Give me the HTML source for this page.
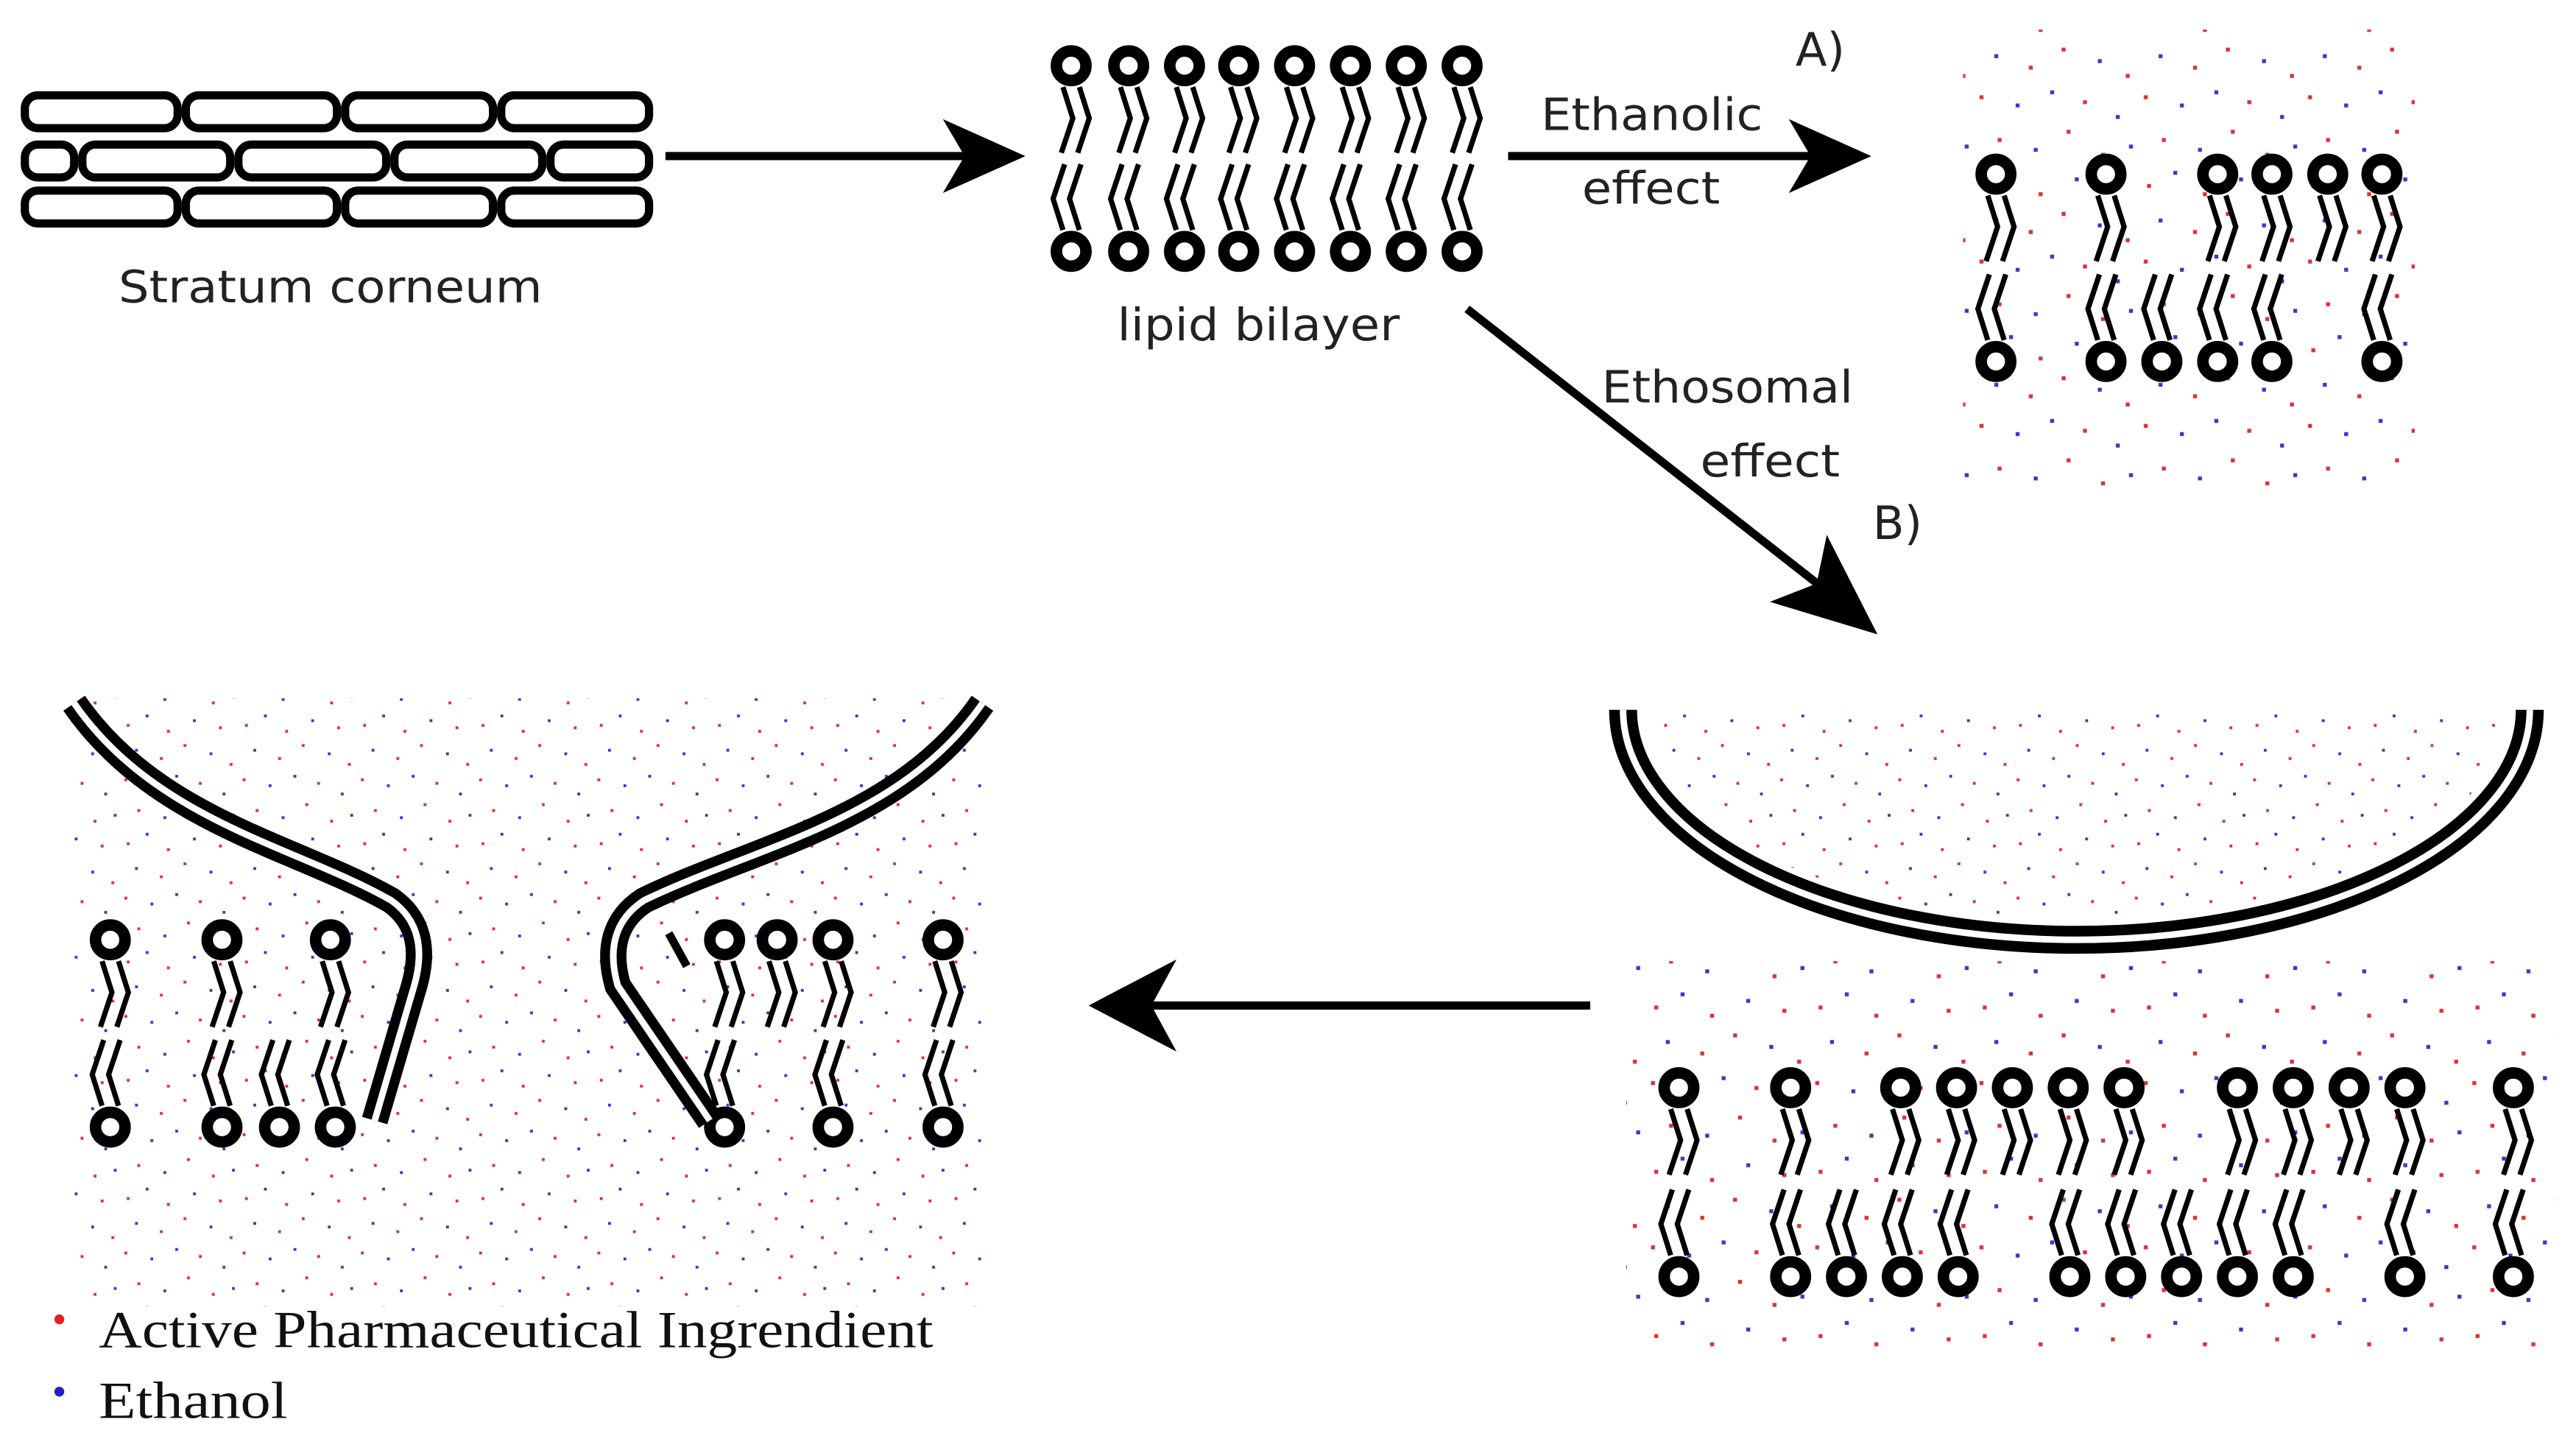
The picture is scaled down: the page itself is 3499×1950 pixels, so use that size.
<!DOCTYPE html>
<html><head><meta charset="utf-8"><style>
html,body{margin:0;padding:0;background:#fff;}
svg{display:block;}
text{font-family:"DejaVu Sans","Liberation Sans",sans-serif;fill:#222;}
.serif{font-family:"Liberation Serif",serif;fill:#111;}
</style></head><body>
<svg width="3499" height="1950" viewBox="0 0 1568 874" xmlns="http://www.w3.org/2000/svg" xmlns:xlink="http://www.w3.org/1999/xlink">
<defs>
<g id="dd">
<rect x="7" y="12" width="2.4" height="2.4" fill="#e03030"/><rect x="23" y="4" width="2.4" height="2.4" fill="#3838c8"/>
<rect x="41" y="17" width="2.4" height="2.4" fill="#e03030"/><rect x="63" y="8" width="2.4" height="2.4" fill="#3838c8"/>
<rect x="85" y="14" width="2.4" height="2.4" fill="#e03030"/><rect x="14" y="33" width="2.4" height="2.4" fill="#3838c8"/>
<rect x="35" y="40" width="2.4" height="2.4" fill="#e03030"/><rect x="55" y="29" width="2.4" height="2.4" fill="#e03030"/>
<rect x="77" y="36" width="2.4" height="2.4" fill="#3838c8"/><rect x="94" y="45" width="2.4" height="2.4" fill="#e03030"/>
<rect x="5" y="58" width="2.4" height="2.4" fill="#e03030"/><rect x="27" y="63" width="2.4" height="2.4" fill="#3838c8"/>
<rect x="48" y="55" width="2.4" height="2.4" fill="#3838c8"/><rect x="68" y="61" width="2.4" height="2.4" fill="#e03030"/>
<rect x="88" y="70" width="2.4" height="2.4" fill="#3838c8"/><rect x="16" y="84" width="2.4" height="2.4" fill="#e03030"/>
<rect x="38" y="90" width="2.4" height="2.4" fill="#3838c8"/><rect x="58" y="79" width="2.4" height="2.4" fill="#e03030"/>
<rect x="79" y="93" width="2.4" height="2.4" fill="#e03030"/><rect x="96" y="88" width="2.4" height="2.4" fill="#3838c8"/>
</g>
<pattern id="pd" x="0" y="0" width="100" height="100" patternUnits="userSpaceOnUse"><use xlink:href="#dd" href="#dd"/></pattern>
<pattern id="pd2" x="0" y="0" width="100" height="100" patternUnits="userSpaceOnUse" patternTransform="scale(0.72)"><use xlink:href="#dd" href="#dd"/></pattern>
<g id="L">
<path d="M-5,13 L1,32 L-6,53 M5,13 L11,32 L4,53" fill="none" stroke="#000" stroke-width="3.2"/>
<circle cx="0" cy="0" r="9" fill="#fff" stroke="#000" stroke-width="7"/>
</g>
</defs>
<rect width="1568" height="874" fill="#fff"/>
<!-- dots -->
<rect x="1195" y="18" width="275" height="285" fill="url(#pd)"/>
<path d="M1002,432 A262,128 0 0 0 1526,432 Z" fill="url(#pd2)"/>
<rect x="990" y="585" width="565" height="235" fill="url(#pd)"/>
<rect x="45" y="425" width="555" height="370" fill="url(#pd2)"/>
<!-- lipids -->
<g>
<use xlink:href="#L" href="#L" transform="translate(652,40)"/><use xlink:href="#L" href="#L" transform="translate(687,40)"/><use xlink:href="#L" href="#L" transform="translate(721,40)"/><use xlink:href="#L" href="#L" transform="translate(754,40)"/><use xlink:href="#L" href="#L" transform="translate(788,40)"/><use xlink:href="#L" href="#L" transform="translate(822,40)"/><use xlink:href="#L" href="#L" transform="translate(856,40)"/><use xlink:href="#L" href="#L" transform="translate(890,40)"/>
<use xlink:href="#L" href="#L" transform="translate(652,153) scale(-1,-1)"/><use xlink:href="#L" href="#L" transform="translate(687,153) scale(-1,-1)"/><use xlink:href="#L" href="#L" transform="translate(721,153) scale(-1,-1)"/><use xlink:href="#L" href="#L" transform="translate(754,153) scale(-1,-1)"/><use xlink:href="#L" href="#L" transform="translate(788,153) scale(-1,-1)"/><use xlink:href="#L" href="#L" transform="translate(822,153) scale(-1,-1)"/><use xlink:href="#L" href="#L" transform="translate(856,153) scale(-1,-1)"/><use xlink:href="#L" href="#L" transform="translate(890,153) scale(-1,-1)"/>
<use xlink:href="#L" href="#L" transform="translate(1215,106)"/><use xlink:href="#L" href="#L" transform="translate(1282,106)"/><use xlink:href="#L" href="#L" transform="translate(1350,106)"/><use xlink:href="#L" href="#L" transform="translate(1383,106)"/><use xlink:href="#L" href="#L" transform="translate(1417,106)"/><use xlink:href="#L" href="#L" transform="translate(1450,106)"/>
<use xlink:href="#L" href="#L" transform="translate(1215,220) scale(-1,-1)"/><use xlink:href="#L" href="#L" transform="translate(1282,220) scale(-1,-1)"/><use xlink:href="#L" href="#L" transform="translate(1316,220) scale(-1,-1)"/><use xlink:href="#L" href="#L" transform="translate(1350,220) scale(-1,-1)"/><use xlink:href="#L" href="#L" transform="translate(1383,220) scale(-1,-1)"/><use xlink:href="#L" href="#L" transform="translate(1450,220) scale(-1,-1)"/>
<use xlink:href="#L" href="#L" transform="translate(1022,662)"/><use xlink:href="#L" href="#L" transform="translate(1090,662)"/><use xlink:href="#L" href="#L" transform="translate(1157,662)"/><use xlink:href="#L" href="#L" transform="translate(1191,662)"/><use xlink:href="#L" href="#L" transform="translate(1225,662)"/><use xlink:href="#L" href="#L" transform="translate(1259,662)"/><use xlink:href="#L" href="#L" transform="translate(1293,662)"/><use xlink:href="#L" href="#L" transform="translate(1362,662)"/><use xlink:href="#L" href="#L" transform="translate(1396,662)"/><use xlink:href="#L" href="#L" transform="translate(1430,662)"/><use xlink:href="#L" href="#L" transform="translate(1464,662)"/><use xlink:href="#L" href="#L" transform="translate(1530,662)"/>
<use xlink:href="#L" href="#L" transform="translate(1022,777) scale(-1,-1)"/><use xlink:href="#L" href="#L" transform="translate(1090,777) scale(-1,-1)"/><use xlink:href="#L" href="#L" transform="translate(1124,777) scale(-1,-1)"/><use xlink:href="#L" href="#L" transform="translate(1158,777) scale(-1,-1)"/><use xlink:href="#L" href="#L" transform="translate(1192,777) scale(-1,-1)"/><use xlink:href="#L" href="#L" transform="translate(1260,777) scale(-1,-1)"/><use xlink:href="#L" href="#L" transform="translate(1294,777) scale(-1,-1)"/><use xlink:href="#L" href="#L" transform="translate(1328,777) scale(-1,-1)"/><use xlink:href="#L" href="#L" transform="translate(1362,777) scale(-1,-1)"/><use xlink:href="#L" href="#L" transform="translate(1396,777) scale(-1,-1)"/><use xlink:href="#L" href="#L" transform="translate(1464,777) scale(-1,-1)"/><use xlink:href="#L" href="#L" transform="translate(1530,777) scale(-1,-1)"/>
<use xlink:href="#L" href="#L" transform="translate(67,572)"/><use xlink:href="#L" href="#L" transform="translate(135,572)"/><use xlink:href="#L" href="#L" transform="translate(201,572)"/><use xlink:href="#L" href="#L" transform="translate(441,572)"/><use xlink:href="#L" href="#L" transform="translate(473,572)"/><use xlink:href="#L" href="#L" transform="translate(507,572)"/><use xlink:href="#L" href="#L" transform="translate(574,572)"/>
<use xlink:href="#L" href="#L" transform="translate(67,686) scale(-1,-1)"/><use xlink:href="#L" href="#L" transform="translate(135,686) scale(-1,-1)"/><use xlink:href="#L" href="#L" transform="translate(170,686) scale(-1,-1)"/><use xlink:href="#L" href="#L" transform="translate(204,686) scale(-1,-1)"/><use xlink:href="#L" href="#L" transform="translate(441,686) scale(-1,-1)"/><use xlink:href="#L" href="#L" transform="translate(507,686) scale(-1,-1)"/><use xlink:href="#L" href="#L" transform="translate(574,686) scale(-1,-1)"/>
</g>
<!-- stratum corneum -->
<g fill="none" stroke="#000" stroke-width="5">
<rect x="15" y="58" width="93" height="20" rx="8"/><rect x="113" y="58" width="92" height="20" rx="8"/><rect x="210" y="58" width="90" height="20" rx="8"/><rect x="305" y="58" width="90" height="20" rx="8"/>
<rect x="15" y="88" width="30" height="20" rx="8"/><rect x="50" y="88" width="90" height="20" rx="8"/><rect x="145" y="88" width="90" height="20" rx="8"/><rect x="240" y="88" width="90" height="20" rx="8"/><rect x="335" y="88" width="60" height="20" rx="8"/>
<rect x="15" y="116" width="93" height="20" rx="8"/><rect x="113" y="116" width="92" height="20" rx="8"/><rect x="210" y="116" width="90" height="20" rx="8"/><rect x="305" y="116" width="90" height="20" rx="8"/>
</g>
<text x="72" y="184" font-size="27" textLength="258" lengthAdjust="spacingAndGlyphs">Stratum corneum</text>
<text x="680" y="207" font-size="27" textLength="172" lengthAdjust="spacingAndGlyphs">lipid bilayer</text>
<text x="938" y="79" font-size="27" textLength="135" lengthAdjust="spacingAndGlyphs">Ethanolic</text>
<text x="963" y="124" font-size="27" textLength="84" lengthAdjust="spacingAndGlyphs">effect</text>
<text x="1093" y="40" font-size="28">A)</text>
<text x="975" y="245" font-size="27" textLength="153" lengthAdjust="spacingAndGlyphs">Ethosomal</text>
<text x="1035" y="290" font-size="27" textLength="85" lengthAdjust="spacingAndGlyphs">effect</text>
<text x="1140" y="328" font-size="28">B)</text>
<!-- arrows -->
<g stroke="#000" stroke-width="5" fill="#000">
<line x1="405" y1="95" x2="600" y2="95"/>
<path d="M618,95 L580,78 L590,95 L580,112 Z"/>
<line x1="918" y1="95" x2="1115" y2="95"/>
<path d="M1133,95 L1095,78 L1105,95 L1095,112 Z"/>
<line x1="893" y1="188" x2="1120" y2="366"/>
<path d="M1138,382 L1085,366 L1108,357 L1113,333 Z"/>
<line x1="968" y1="612" x2="690" y2="612"/>
<path d="M668,612 L710,590 L698,612 L710,634 Z"/>
</g>
<!-- vesicle B -->
<path d="M988,432 A276,140 0 0 0 1540,432" fill="none" stroke="#000" stroke-width="17"/>
<path d="M988,432 A276,140 0 0 0 1540,432" fill="none" stroke="#fff" stroke-width="4"/>
<!-- left curves -->
<g fill="none">
<path d="M45,428 C95,500 180,515 238,548 Q262,565 252,600 L228,682" stroke="#000" stroke-width="16"/>
<path d="M45,428 C95,500 180,515 238,548 Q262,565 252,600 L228,682" stroke="#fff" stroke-width="4"/>
<path d="M598,428 C548,500 460,515 392,548 Q366,565 376,600 L432,682" stroke="#000" stroke-width="16"/>
<path d="M598,428 C548,500 460,515 392,548 Q366,565 376,600 L432,682" stroke="#fff" stroke-width="4"/>
<path d="M407,568 L418,588" stroke="#000" stroke-width="5"/>
</g>
<circle cx="36" cy="803" r="3" fill="#e02020"/>
<circle cx="36" cy="847" r="3" fill="#2020c0"/>
<text class="serif" x="60" y="820" font-size="32" textLength="508" lengthAdjust="spacingAndGlyphs">Active Pharmaceutical Ingrendient</text>
<text class="serif" x="60" y="863" font-size="32" textLength="115" lengthAdjust="spacingAndGlyphs">Ethanol</text>
</svg>
</body></html>
